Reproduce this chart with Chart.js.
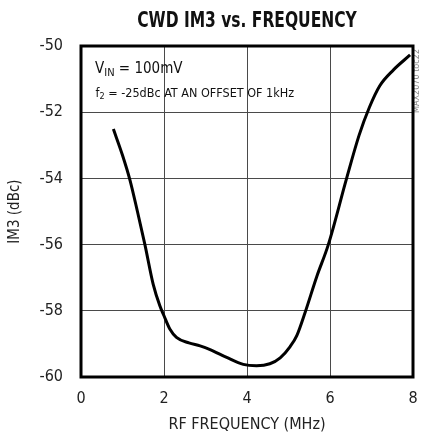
<!DOCTYPE html>
<html>
<head>
<meta charset="utf-8">
<script src="https://cdn.jsdelivr.net/npm/chart.js@4.4.0/dist/chart.umd.min.js"></script>
<style>
  html, body { margin: 0; padding: 0; background: #fff; }
  #wrap { width: 422px; height: 439px; position: relative; }
</style>
</head>
<body>
<div id="wrap"><canvas id="im3Chart"></canvas></div>
<script>
var FONT = "'Liberation Sans Narrow', 'Arial Narrow', 'DejaVu Sans Condensed', sans-serif";

// CWD IM3 vs RF frequency, VIN = 100mV
var freqMHz = [0.78, 1.0, 1.18, 1.36, 1.54, 1.74, 1.9, 2.0, 2.14, 2.3, 2.6, 2.87, 3.11, 3.51, 3.91, 4.23, 4.55, 4.8, 5.04, 5.2, 5.4, 5.68, 5.96, 6.4, 6.7, 6.95, 7.2, 7.53, 7.93];
var im3dBc  = [-52.51, -53.3, -54.05, -55.0, -56.0, -57.2, -57.85, -58.15, -58.55, -58.8, -58.97, -59.06, -59.17, -59.41, -59.62, -59.66, -59.6, -59.42, -59.08, -58.75, -58.05, -56.97, -56.0, -54.0, -52.7, -51.85, -51.2, -50.72, -50.27];
var xTicks = [0, 2, 4, 6, 8];
var yTicks = [-60, -58, -56, -54, -52, -50];

var points = freqMHz.map(function (f, i) { return { x: f, y: im3dBc[i] }; });

// title, in-plot notes and the side tag
var textPlugin = {
  id: 'extraText',
  afterDraw: function (chart) {
    var c = chart.ctx;
    var area = chart.chartArea;
    c.save();
    c.fillStyle = '#111';
    c.textBaseline = 'alphabetic';

    // squeezed bold title
    c.save();
    c.font = 'bold 21px ' + FONT;
    c.textAlign = 'center';
    c.translate((area.left + area.right) / 2, 27);
    c.scale(0.82, 1);
    c.fillText('CWD IM3 vs. FREQUENCY', 0, 0);
    c.restore();

    c.textAlign = 'left';
    var x = 95;
    c.font = '15px ' + FONT;
    c.fillText('V', x, 73);
    x += c.measureText('V').width;
    c.font = '11px ' + FONT;
    c.fillText('IN', x, 76);
    x += c.measureText('IN').width;
    c.font = '15px ' + FONT;
    c.fillText(' = 100mV', x, 73);

    x = 95.5;
    c.font = '12.5px ' + FONT;
    c.fillText('f', x, 96.5);
    x += c.measureText('f').width;
    c.font = '9px ' + FONT;
    c.fillText('2', x, 99);
    x += c.measureText('2').width;
    c.font = '12.5px ' + FONT;
    c.fillText(' = -25dBc AT AN OFFSET OF 1kHz', x, 96.5);

    c.translate(419, 81);
    c.rotate(-Math.PI / 2);
    c.font = '9px ' + FONT;
    c.fillStyle = '#888';
    c.textAlign = 'center';
    c.fillText('MAX2070 toc22', 0, 0);
    c.restore();

    // heavy frame round the plot
    c.save();
    c.strokeStyle = '#000';
    c.lineWidth = 3;
    c.strokeRect(area.left, area.top, area.right - area.left, area.bottom - area.top);
    c.restore();
  }
};

new Chart(document.getElementById('im3Chart'), {
  type: 'line',
  data: {
    datasets: [{
      data: points,
      borderColor: '#000',
      borderWidth: 3,
      pointRadius: 0,
      fill: false,
      cubicInterpolationMode: 'monotone'
    }]
  },
  options: {
    responsive: true,
    maintainAspectRatio: false,
    animation: false,
    layout: { padding: { left: 0, right: 9, top: 46, bottom: 0 } },
    plugins: { legend: { display: false }, tooltip: { enabled: false } },
    scales: {
      x: {
        type: 'linear',
        min: 0,
        max: 8,
        afterBuildTicks: function (s) { s.ticks = xTicks.map(function (v) { return { value: v }; }); },
        afterFit: function (s) { s.height = 62; s.paddingLeft = 0; s.paddingRight = 0; },
        grid: { color: '#4a4a4a', lineWidth: 1, drawTicks: false },
        border: { display: false },
        ticks: { color: '#222', font: { family: FONT, size: 16 }, padding: 12, maxRotation: 0 },
        title: { display: true, text: 'RF FREQUENCY (MHz)', color: '#222', font: { family: FONT, size: 16 }, padding: { top: 0, bottom: 5 } }
      },
      y: {
        type: 'linear',
        min: -60,
        max: -50,
        afterBuildTicks: function (s) { s.ticks = yTicks.map(function (v) { return { value: v }; }); },
        afterFit: function (s) { s.width = 81; s.paddingTop = 0; s.paddingBottom = 0; },
        grid: { color: '#4a4a4a', lineWidth: 1, drawTicks: false },
        border: { display: false },
        ticks: { color: '#222', font: { family: FONT, size: 16 }, padding: 18 },
        title: { display: true, text: 'IM3 (dBc)', color: '#222', font: { family: FONT, size: 15 }, padding: { top: 6, bottom: 0 } }
      }
    }
  },
  plugins: [textPlugin]
});
</script>
</body>
</html>
